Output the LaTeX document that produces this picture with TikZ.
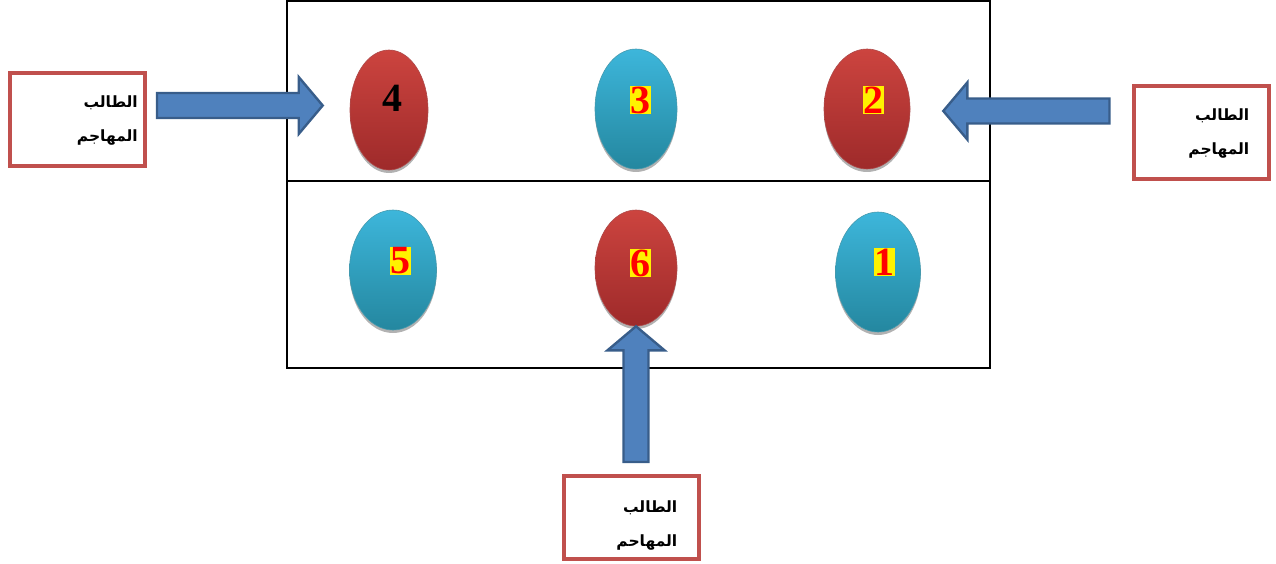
\documentclass[tikz,border=0pt]{standalone}
\usepackage{fontspec}
\setmainfont{Liberation Serif}
\newfontfamily\arabicfont[Script=Arabic]{DejaVu Sans}
\TeXXeTstate=1
\usetikzlibrary{shapes.geometric,shadows,calc}

\definecolor{boxred}{HTML}{C0504D}
\definecolor{arrowfill}{HTML}{4F81BD}
\definecolor{arrowedge}{HTML}{385D8A}
\definecolor{redtop}{HTML}{CC443F}
\definecolor{redbot}{HTML}{9E2A2A}
\definecolor{bluetop}{HTML}{3DB6DB}
\definecolor{bluebot}{HTML}{24879F}

\tikzset{
  stubox/.style={draw=boxred, line width=4pt, minimum width=135pt, minimum height=93pt, inner sep=0pt},
  stutext/.style={font=\arabicfont\bfseries\fontsize{15.5}{34}\selectfont, align=right, anchor=east, inner sep=0pt},
  seat/.style={ellipse, minimum width=82pt, minimum height=120pt, inner sep=0pt,
    drop shadow={shadow xshift=0pt, shadow yshift=-3pt, fill=black!30, opacity=1}},
  redseat/.style={seat, top color=redtop, bottom color=redbot, draw=redbot!85, line width=0.6pt},
  blueseat/.style={seat, top color=bluetop, bottom color=bluebot, draw=bluebot!85, line width=0.6pt},
  num/.style={font=\bfseries\fontsize{40}{40}\selectfont, text=red, fill=yellow, inner xsep=0.5pt, inner ysep=1pt},
  numblack/.style={font=\bfseries\fontsize{40}{40}\selectfont, text=black, inner sep=0pt}
}

\newcommand\bigarrow[2]{%
  \path[draw=arrowedge, fill=arrowfill, line width=2.4pt, line join=miter]
    let \p1=(#1), \p2=(#2), \n1={atan2(\y2-\y1,\x2-\x1)}, \n2={veclen(\x2-\x1,\y2-\y1)} in
    [shift={(\p1)}, rotate=\n1]
    (0,-12.5) -- (\n2-24,-12.5) -- (\n2-24,-28.5) -- (\n2,0) -- (\n2-24,28.5) -- (\n2-24,12.5) -- (0,12.5) -- cycle;}

\begin{document}
\begin{tikzpicture}[x=1pt, y=-1pt]
	\useasboundingbox (0,0) rectangle (1276,564);

	\draw[line width=1.5pt] (287,1) rectangle (990,368);
	\draw[line width=1.2pt] (287,181) -- (990,181);

	\node[redseat, minimum width=78pt] (e4) at (389,110) {};
	\node[blueseat] (e3) at (636,109) {};
	\node[redseat, minimum width=86pt] (e2) at (867,109) {};
	\node[blueseat, minimum width=87pt] (e5) at (393,270) {};
	\node[redseat, minimum height=116pt] (e6) at (636,268) {};
	\node[blueseat, minimum width=85pt] (e1) at (878,272) {};

	\node[numblack] (n4) at (392,98) {4};
	\node[num] (n3) at (640,100) {3};
	\node[num] (n2) at (873,100) {2};
	\node[num] (n5) at (400,261) {5};
	\node[num] (n6) at (640,263) {6};
	\node[num] (n1) at (884,262) {1};

	\node[stubox] (lbox) at (77.5,119.5) {};
	\node[stubox] (rbox) at (1201,132.5) {};
	\node[stubox, minimum height=83pt] (bbox) at (631,517.5) {};

	\node[stutext] (ltxt) at ($(lbox.east)+(-9,1)$) {\beginR الطالب\endR\\\beginR المهاجم\endR};
	\node[stutext] (rtxt) at ($(rbox.east)+(-21,1)$) {\beginR الطالب\endR\\\beginR المهاجم\endR};
	\node[stutext] (btxt) at ($(bbox.east)+(-23,8.5)$) {\beginR الطالب\endR\\\beginR المهاحم\endR};

	\bigarrow{$(lbox.east)+(10,-14)$}{$(e4.west)+(-27,-4.5)$}
	\bigarrow{$(rbox.west)+(-22,-21.5)$}{$(e2.east)+(33,2)$}
	\bigarrow{$(bbox.north)+(5,-12)$}{e6.south}

\end{tikzpicture}
\end{document}
